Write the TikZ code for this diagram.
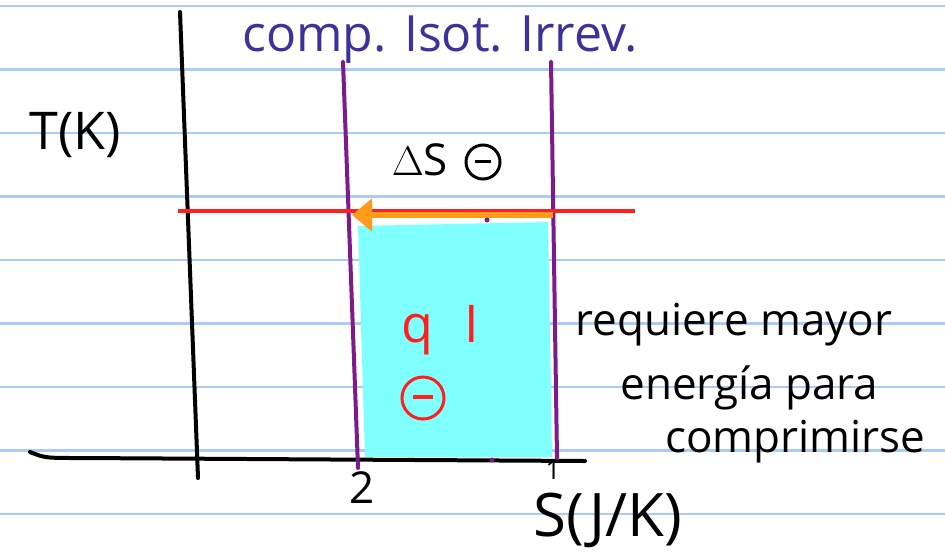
\documentclass[tikz,border=0pt]{standalone}
\usepackage{fontspec}
\setmainfont{Open Sans}
\usetikzlibrary{positioning,arrows.meta}
\definecolor{paper}{HTML}{A9CBF5}
\definecolor{wallc}{HTML}{7D1A8C}
\definecolor{ink}{HTML}{3B3399}
\definecolor{heat}{HTML}{FF1F1F}
\definecolor{pathc}{HTML}{FF9A1A}
\definecolor{area}{HTML}{80FFFF}
\tikzset{
  hand/.style={font=\fontsize{22}{24}\selectfont, inner sep=0pt},
  big/.style={font=\fontsize{26}{28}\selectfont, inner sep=0pt},
  axis/.style={line width=2pt, line cap=round},
  wall/.style={wallc, line width=2pt, line cap=round},
  dot/.style={circle, fill=wallc, inner sep=0pt, minimum size=2.5pt},
  minus/.style={circle, draw, line width=1.5pt, inner sep=0pt},
}

\begin{document}
\begin{tikzpicture}[x=0.5pt,y=-0.5pt]
  \useasboundingbox (0,0) rectangle (945,557);
  % ruled paper
  \foreach \i in {0,...,8}
    \draw[paper, line width=1.3pt] (0,{6+63.5*\i}) -- (945,{6+63.5*\i});

  % shaded area under the isotherm
  \fill[area] (358,226) -- (548,222) -- (552,457) -- (365,457) -- cycle;

  % axes
  \coordinate (ytop) at (180,12);
  \coordinate (ybot) at (198,478);
  \coordinate (xleft) at (30,452);
  \coordinate (xright) at (585,461);
  \draw[axis] (ytop) -- (ybot);
  \draw[axis] (xleft) .. controls (45,458) .. (80,458) -- (xright);

  % states 2 and 1
  \coordinate (w2top) at (343,62);
  \coordinate (w2bot) at (358,468);
  \coordinate (w1top) at (551,62);
  \coordinate (w1bot) at (557,458);
  \draw[wall] (w2top) -- (w2bot);
  \draw[wall] (w1top) -- (w1bot);

  % isotherm and irreversible compression
  \coordinate (isoL) at (178,211);
  \coordinate (isoR) at (635,211);
  \draw[heat, line width=1.8pt] (isoL) -- (isoR);
  \coordinate (st1) at (553,215);
  \coordinate (st2) at (352,215);
  \draw[pathc, line width=3pt, -{Triangle[length=10pt,width=16pt]}] (st1) -- (st2);
  \node[dot] (mid1) at (487,220) {};
  \node[dot] (mid2) at (492,460) {};

  % labels
  \node[hand, font=\fontsize{25}{27}\selectfont, text=ink] (title) at (440,40) {comp. Isot. Irrev.};
  \node[big] (tlab) at (75,135) {T(K)};
  \node[hand] (ds) at (420,160) {$\Delta$S};
  \node[minus, minimum size=17pt] (dssign) at (483,162) {\rule[0.9pt]{8pt}{1.5pt}};
  \node[big, text=heat] (qlab) at (440,330) {q\hspace{0.6em}I};
  \node[minus, heat, minimum size=21pt] (qsign) at (423,398) {\rule[0.9pt]{10pt}{1.8pt}};
  \node[hand, anchor=west] (note1) at (575,325) {requiere mayor};
  \node[hand, anchor=west] (note2) at (620,388) {energía para};
  \node[hand, anchor=west] (note3) at (665,442) {comprimirse};
  \node[hand] (two) at (362,488) {2};
  \node[font=\fontsize{13}{15}\selectfont, inner sep=0pt] (one) at (553,470) {1};
  \node[big, font=\fontsize{30}{32}\selectfont] (slab) at (608,520) {S(J/K)};
\end{tikzpicture}
\end{document}
